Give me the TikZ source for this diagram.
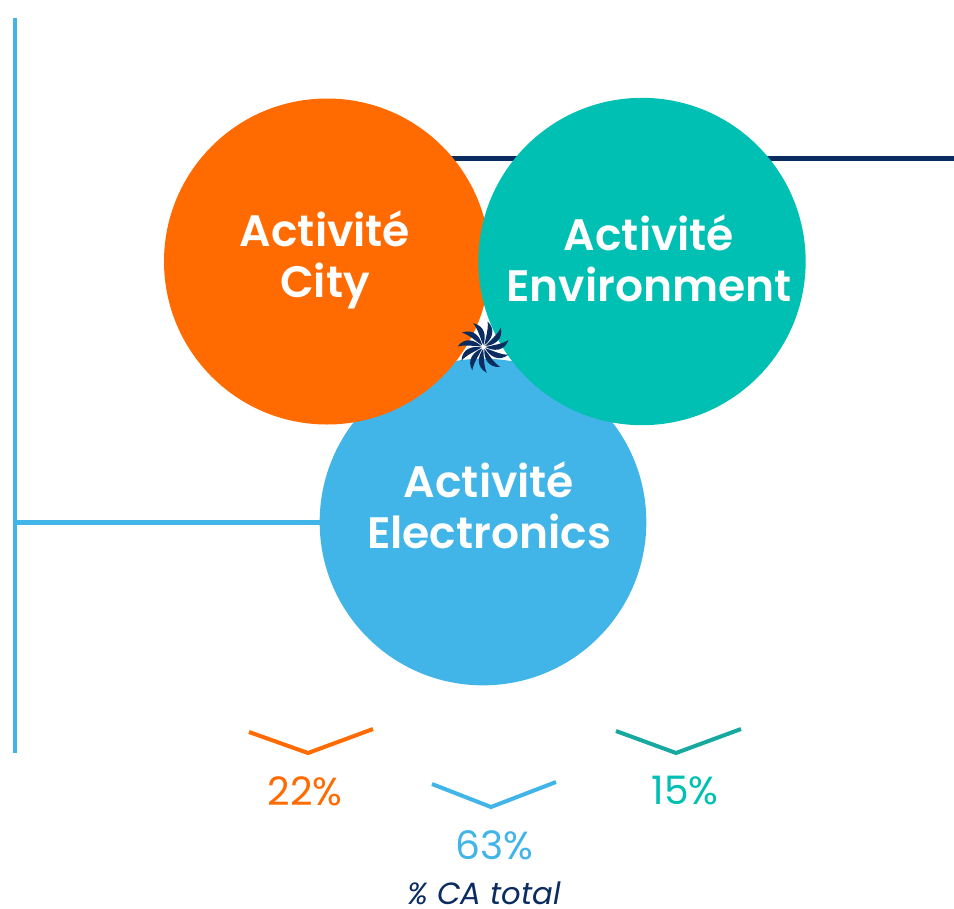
\documentclass[tikz,border=0pt]{standalone}
\usepackage{fontspec}
\setmainfont{Poppins}
\newfontfamily\medfont{Poppins SemiBold}
\usepackage{xcolor}
\usetikzlibrary{positioning}
\definecolor{cityorange}{HTML}{FF6B00}
\definecolor{envteal}{HTML}{00BFB3}
\definecolor{envdark}{HTML}{17A89F}
\definecolor{elecblue}{HTML}{41B4E8}
\definecolor{navy}{HTML}{0B2C60}
\tikzset{
	activity/.style={circle,inner sep=0pt,minimum size=245pt},
	actlabel/.style={white,align=center,font=\medfont\fontsize{33}{38}\selectfont},
	percent/.style={font=\fontsize{29.4}{32}\selectfont},
	chevron/.style={line width=3pt,line join=miter}
}

\begin{document}
\begin{tikzpicture}[x=0.75pt,y=-0.75pt]
	\useasboundingbox (0,0) rectangle (954,908);
	
	%Points
	\coordinate (topL) at (15,18);
	\coordinate (botL) at (15,753);
	\coordinate (elecL) at (15,522.5);
	\coordinate (elecR) at (325,522.5);
	\coordinate (cityR) at (450,158.5);
	\coordinate (pageR) at (954,158.5);
	
	%Lines
	\draw[elecblue,line width=3.4pt] (topL) -- (botL);
	\draw[elecblue,line width=3.4pt] (elecL) -- (elecR);
	\draw[navy,line width=3.4pt] (cityR) -- (pageR);
	
	%Circles
	\node[activity,fill=elecblue] (Elec) at (483,522) {};
	\node[activity,fill=cityorange,minimum size=244.5pt] (City) at (327,261.5) {};
	\node[activity,fill=envteal,minimum size=245.5pt] (Env) at (642,261.5) {};
	
	\node[actlabel] (cityText) at (325,260) {Activité\\City};
	\node[actlabel] (envText) at (649,258) {Activité\\Environment};
	\node[actlabel] (elecText) at (489,505) {Activité\\Electronics};
	
	%Logo
	\foreach \a in {0,32.7,...,327} {
	\begin{scope}[shift={(483.5,347)},rotate=\a]
		\fill[navy] (2,0) .. controls (10,4.5) and (21,4.5) .. (25,-7) .. controls (19,-3) and (10,-2) .. (2,0) -- cycle;
	\end{scope}
}
	
	%Chevrons
	\draw[chevron,cityorange] (249,732) -- (308,753) -- (373,729);
	\draw[chevron,elecblue] (432,784) -- (491,807) -- (556,782);
	\draw[chevron,envdark] (616,731) -- (676,753) -- (741,729);
	
	\node[percent,cityorange] (cityPct) at (305,791) {22\%};
	\node[percent,elecblue] (elecPct) at (494,845) {63\%};
	\node[percent,envteal] (envPct) at (685,791) {15\%};
	\node[navy,anchor=base,inner sep=0pt,font=\itshape\fontsize{23}{24}\selectfont] (caTotal) at (484,904) {\% CA total};
\end{tikzpicture}
\end{document}
